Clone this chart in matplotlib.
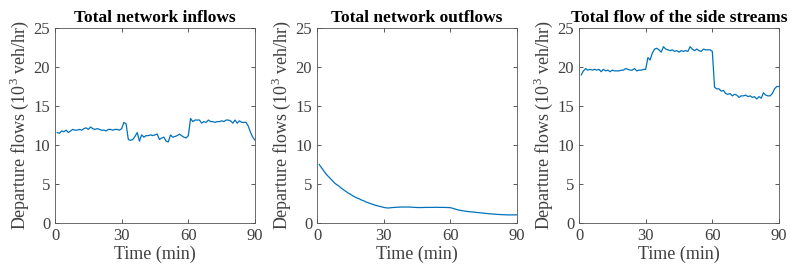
import numpy as np
import matplotlib
matplotlib.use("Agg")
import matplotlib.pyplot as plt

# time axis (min)
minutes = list(range(1, 91))

# departure flows, 10^3 veh/hr
inflows = [
    11.6, 11.5, 11.8, 11.7, 11.9, 11.6, 11.8, 12.0, 11.9, 11.9,
    12.0, 11.9, 12.1, 12.2, 12.0, 12.3, 12.1, 12.0, 12.1, 12.0,
    11.9, 11.9, 11.8, 12.0, 12.0, 11.9, 12.0, 12.0, 11.9, 12.1,
    12.9, 12.7, 10.7, 10.6, 10.7, 11.1, 11.6, 10.5, 11.3, 11.0,
    11.2, 11.2, 11.3, 11.2, 11.3, 11.4, 10.7, 10.9, 11.0, 10.5,
    10.4, 11.3, 11.0, 11.1, 11.2, 11.4, 11.2, 11.0, 10.9, 11.2,
    13.4, 13.0, 13.2, 13.2, 13.2, 12.8, 13.0, 12.9, 13.2, 13.0,
    13.0, 12.9, 13.0, 13.0, 13.1, 13.0, 13.2, 13.2, 13.1, 12.8,
    13.2, 12.8, 13.1, 12.9, 12.9, 12.9, 12.4, 11.6, 11.0, 10.6,
]

outflows = [
    7.5, 7.1, 6.7, 6.3, 6.0, 5.7, 5.4, 5.1, 4.9, 4.7,
    4.45, 4.25, 4.05, 3.85, 3.7, 3.5, 3.35, 3.2, 3.1, 2.95,
    2.85, 2.7, 2.6, 2.5, 2.4, 2.3, 2.22, 2.15, 2.08, 2.0,
    1.95, 1.92, 1.95, 1.98, 2.0, 2.02, 2.03, 2.05, 2.05, 2.05,
    2.05, 2.04, 2.02, 2.0, 1.99, 1.98, 1.98, 1.99, 2.0, 2.0,
    2.0, 2.0, 2.01, 2.01, 2.0, 2.0, 2.0, 1.99, 1.98, 1.96,
    1.9, 1.8, 1.72, 1.65, 1.6, 1.55, 1.5, 1.47, 1.44, 1.41,
    1.38, 1.35, 1.32, 1.29, 1.26, 1.23, 1.2, 1.17, 1.15, 1.13,
    1.11, 1.09, 1.07, 1.06, 1.05, 1.04, 1.04, 1.04, 1.04, 1.05,
]

side_streams = [
    19.0, 19.5, 19.8, 19.6, 19.7, 19.6, 19.7, 19.6, 19.7, 19.4,
    19.7, 19.5, 19.6, 19.4, 19.6, 19.5, 19.5, 19.5, 19.6, 19.6,
    19.8, 19.7, 19.6, 19.6, 19.8, 19.5, 19.6, 19.6, 19.7, 19.7,
    21.2, 20.9, 21.8, 22.3, 22.4, 22.2, 21.9, 22.6, 22.3, 22.2,
    22.1, 22.2, 22.0, 22.1, 21.9, 22.1, 22.0, 22.1, 22.0, 22.6,
    22.3, 22.1, 22.3, 22.1, 22.0, 22.3, 22.2, 22.2, 22.2, 22.0,
    17.4, 17.2, 17.2, 16.9, 17.0, 16.6, 16.5, 16.6, 16.3, 16.5,
    16.4, 16.1, 16.3, 16.3, 16.4, 16.2, 16.3, 16.1, 16.2, 15.9,
    16.2, 16.0, 16.7, 16.4, 16.3, 16.3, 16.6, 17.2, 17.5, 17.5,
]

titles = ["Total network inflows", "Total network outflows", "Total flow of the side streams"]
series = [inflows, outflows, side_streams]

plt.rcParams['font.family'] = ['Liberation Serif', 'DejaVu Serif']
plt.rcParams['mathtext.fontset'] = 'custom'
plt.rcParams['mathtext.rm'] = 'Liberation Serif'

fig = plt.figure(figsize=(7.9, 2.68), dpi=100)
lefts = [55 / 790, 317 / 790, 579 / 790]
grey = '#404040'

for left, title, y in zip(lefts, titles, series):
    ax = fig.add_axes([left, 45 / 268, 200 / 790, 195 / 268])
    ax.plot(minutes, y, color='#0072BD', linewidth=0.9)
    ax.set_xlim(0, 90)
    ax.set_ylim(0, 25)
    ax.set_xticks([0, 30, 60, 90])
    ax.set_yticks([0, 5, 10, 15, 20, 25])
    ax.tick_params(direction='in', top=True, right=True, length=3,
                   labelsize=12, colors=grey, width=0.6)
    for s in ax.spines.values():
        s.set_color('#555555')
        s.set_linewidth(0.6)
    ax.set_xlabel('Time (min)', fontsize=13, color=grey, labelpad=1)
    ax.set_ylabel('Departure flows (10$^3$ veh/hr)', fontsize=13, color=grey, labelpad=2)
    ax.set_title(title, fontsize=12.5, fontweight='bold', pad=4)

fig.savefig('out.png', dpi=100)
